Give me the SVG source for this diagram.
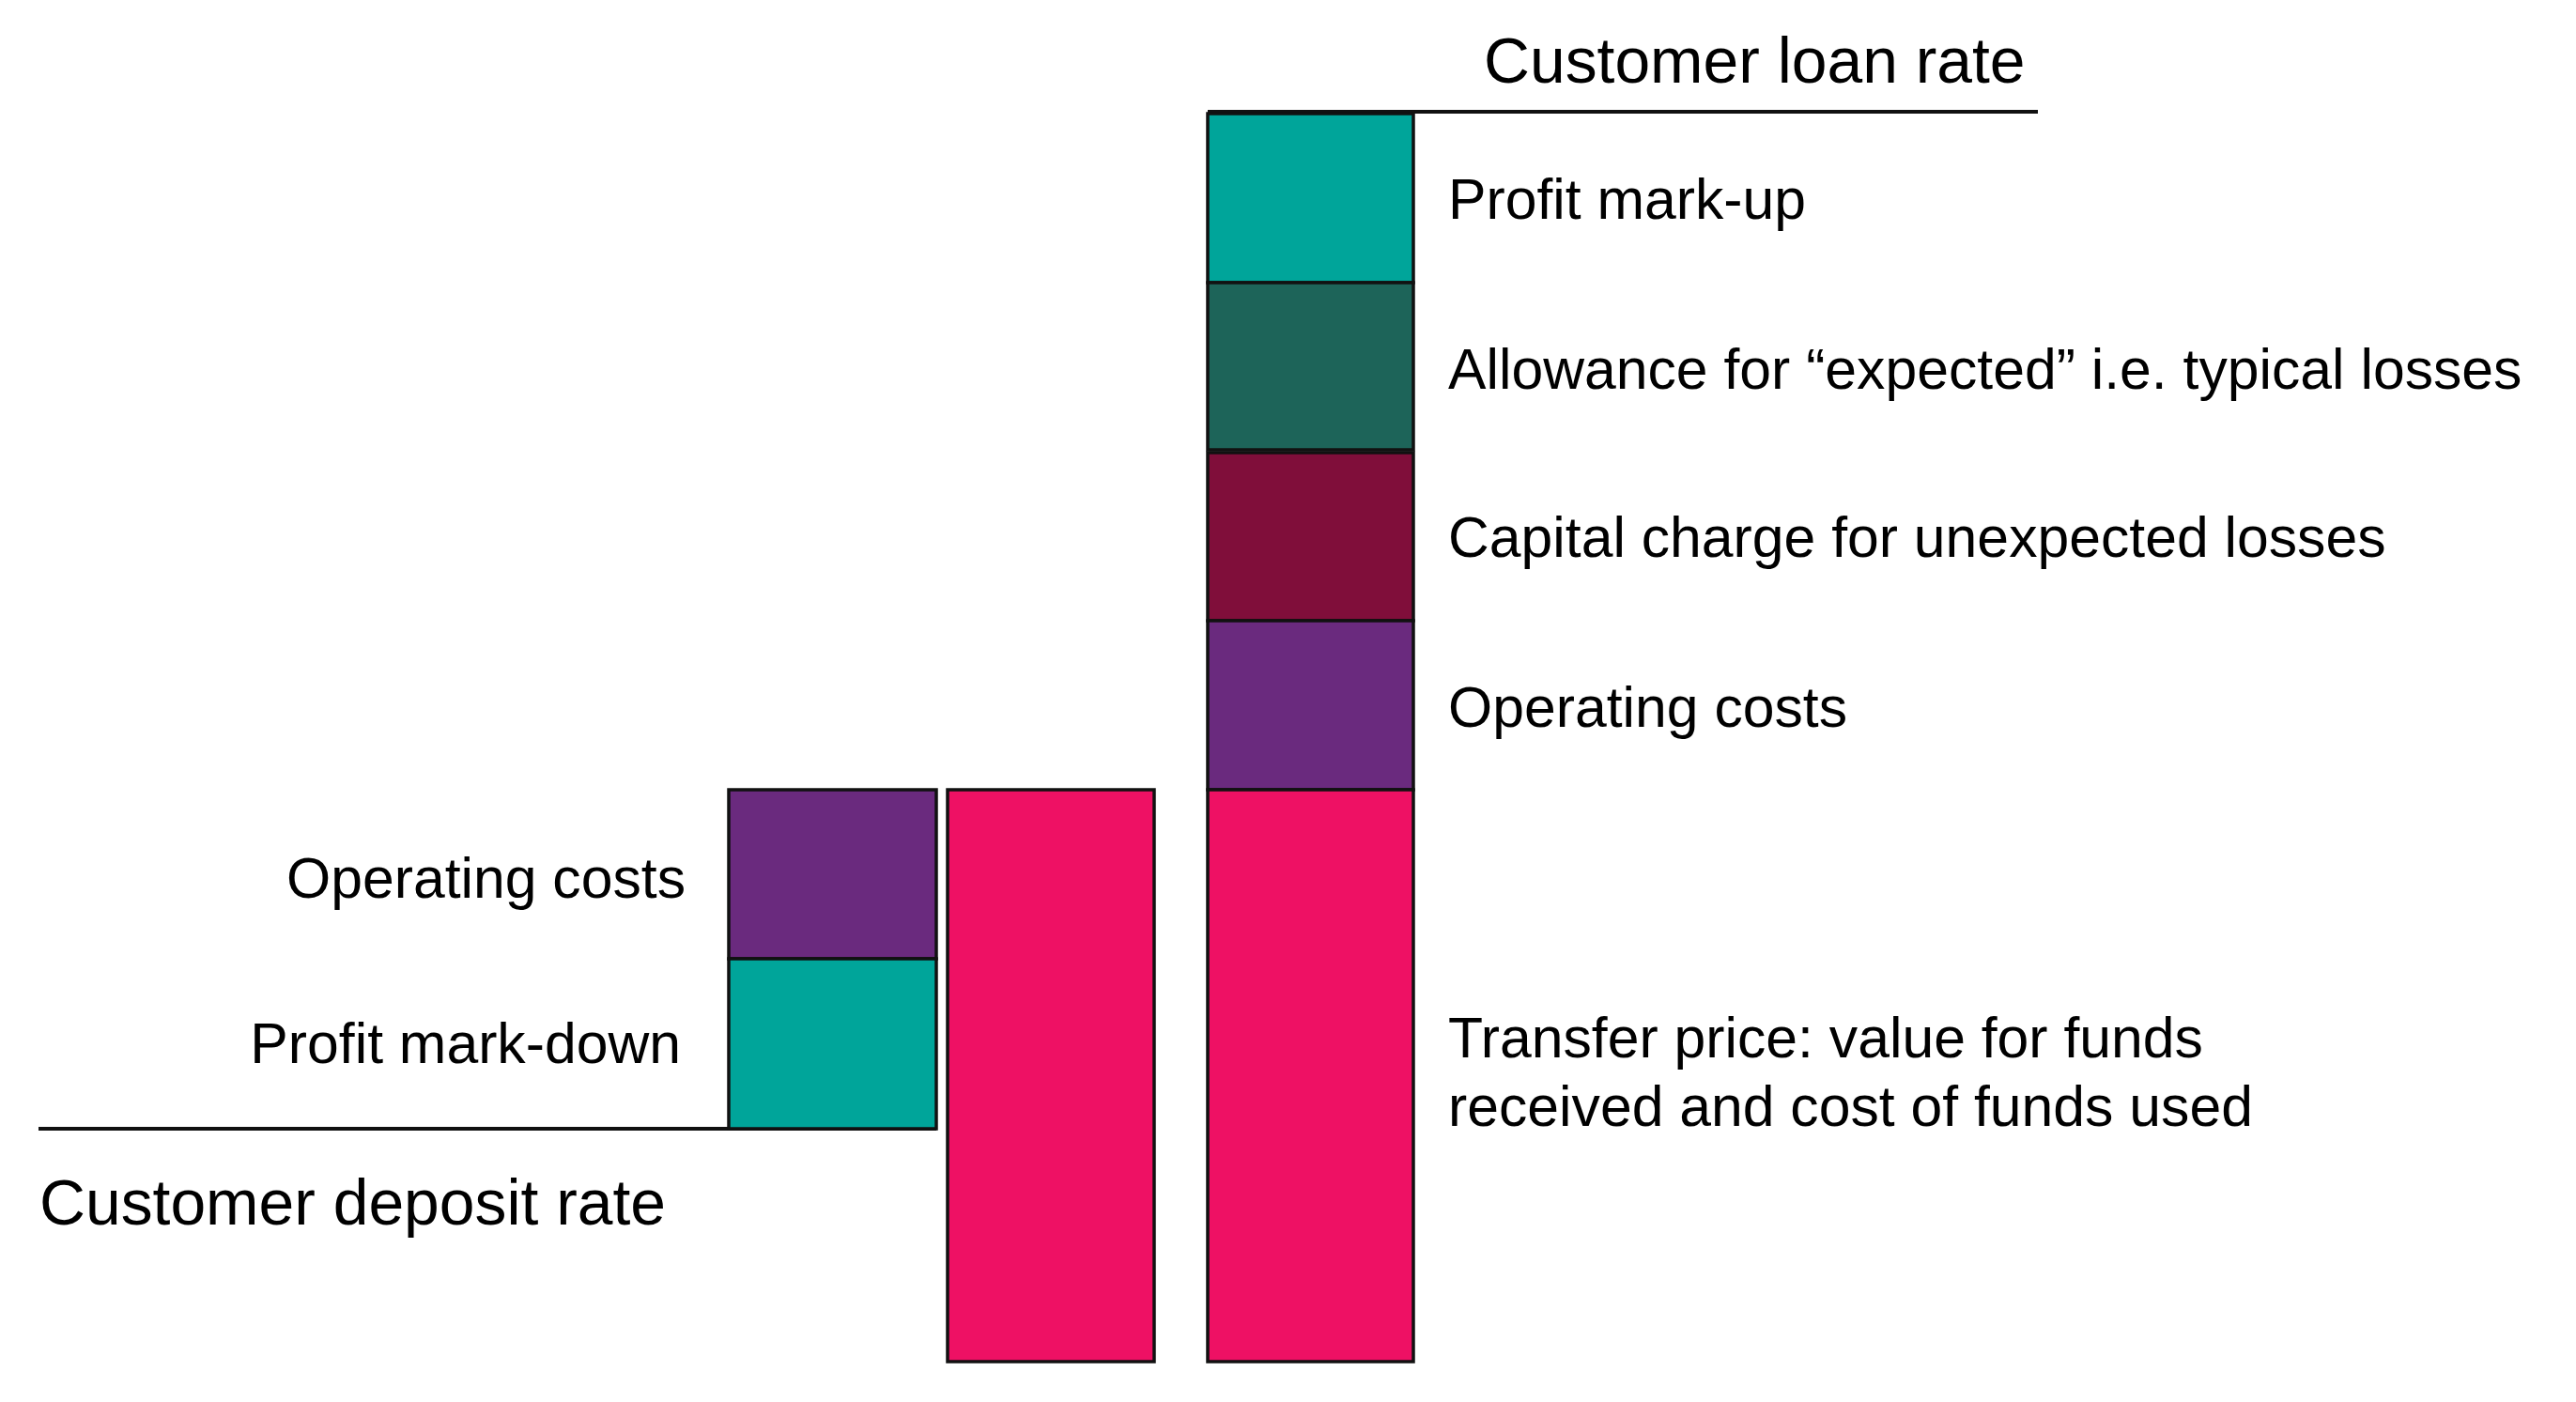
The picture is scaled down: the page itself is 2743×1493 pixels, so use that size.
<svg xmlns="http://www.w3.org/2000/svg" width="2743" height="1493" viewBox="0 0 2743 1493">
<style>
  .seg { stroke: #111; stroke-width: 3.5; }
  .teal { fill: #00A59A; }
  .dgreen { fill: #1D6459; }
  .maroon { fill: #800E3A; }
  .purple { fill: #6A2A7E; }
  .pink { fill: #EE1164; }
  .rule { stroke: #111; stroke-width: 4; fill: none; }
  .lbl { font-family: "Liberation Sans", Arial, sans-serif; font-size: 60.7px; fill: #000; }
  .ttl { font-family: "Liberation Sans", Arial, sans-serif; font-size: 67.8px; fill: #000; }
</style>
<rect width="2743" height="1493" fill="#ffffff"/>

<g id="connectors">
  <line class="rule" x1="1286" y1="119" x2="2170" y2="119"/>
  <line class="rule" x1="41" y1="1202" x2="997" y2="1202"/>
</g>

<g id="loan-profit-markup">
  <rect class="seg teal" x="1286" y="121" width="219" height="180"/>
  <text class="lbl" x="1542" y="233">Profit mark-up</text>
</g>
<g id="loan-expected-losses">
  <rect class="seg dgreen" x="1286" y="301" width="219" height="178"/>
  <text class="lbl" x="1542" y="414">Allowance for “expected” i.e. typical losses</text>
</g>
<g id="loan-capital-charge">
  <rect class="seg maroon" x="1286" y="482" width="219" height="179"/>
  <text class="lbl" x="1542" y="593">Capital charge for unexpected losses</text>
</g>
<g id="loan-operating-costs">
  <rect class="seg purple" x="1286" y="661" width="219" height="180"/>
  <text class="lbl" x="1542" y="774">Operating costs</text>
</g>
<g id="loan-transfer-price">
  <rect class="seg pink" x="1286" y="841" width="219" height="609"/>
  <text class="lbl" x="1542" y="1126">Transfer price: value for funds</text>
  <text class="lbl" x="1542" y="1199">received and cost of funds used</text>
</g>

<g id="middle-transfer-price">
  <rect class="seg pink" x="1009" y="841" width="220" height="609"/>
</g>

<g id="deposit-operating-costs">
  <rect class="seg purple" x="776" y="841" width="221" height="180"/>
  <text class="lbl" x="730" y="956" text-anchor="end">Operating costs</text>
</g>
<g id="deposit-profit-markdown">
  <rect class="seg teal" x="776" y="1021" width="221" height="181"/>
  <text class="lbl" x="725" y="1132" text-anchor="end">Profit mark-down</text>
</g>

<g id="customer-loan-rate">
  <text class="ttl" x="1580" y="88">Customer loan rate</text>
</g>
<g id="customer-deposit-rate">
  <text class="ttl" x="42" y="1304">Customer deposit rate</text>
</g>
</svg>
